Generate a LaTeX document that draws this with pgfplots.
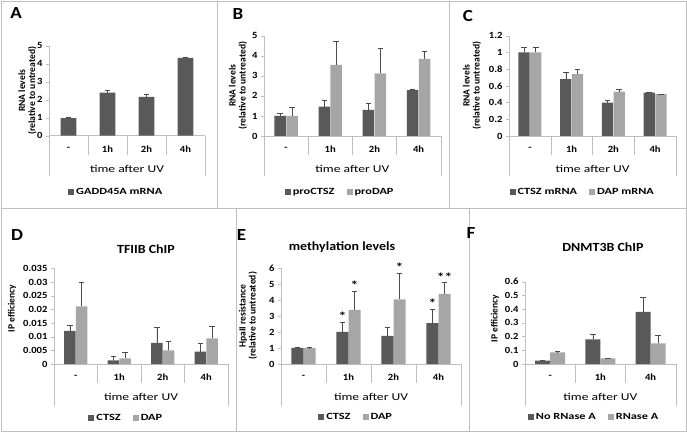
\documentclass[border=0pt]{standalone}
\usepackage{pgfplots}
\pgfplotsset{compat=1.18}
\usepackage{fontspec}
\setmainfont{Carlito}
\newfontfamily\wide{Carlito}[FakeStretch=1.3]
\newfontfamily\semiwide{Carlito}[FakeStretch=1.12]

\definecolor{darkbar}{HTML}{595959}
\definecolor{lightbar}{HTML}{A6A6A6}
\definecolor{frame}{HTML}{BFBFBF}

\newcommand{\sep}[2]{\draw[frame] (axis cs:#1,0) -- ++(0bp,-#2bp);}

\pgfplotsset{
  panel/.style={
    scale only axis, ybar, ymin=0, xmin=0, clip=false,
    scaled y ticks=false,
    axis x line*=bottom, axis y line*=left,
    axis line style={draw=frame, -},
    ytick style={draw=frame}, tick align=outside, major tick length=3bp,
    x tick style={draw=none},
    xtick={0.5,1.5,2.5,3.5},
    /pgf/number format/assume math mode=true,
    tick label style={font=\fontsize{9.5}{10}\semiwide\bfseries},
    xticklabel style={anchor=center, yshift=-10bp},
    xlabel={time after UV},
    every axis x label/.style={at={([yshift=-33bp]axis description cs:0.5,0)}, anchor=center,
      font=\fontsize{10.5}{12}\wide},
    every axis y label/.style={rotate=90, anchor=center, align=center,
      font=\fontsize{9.6}{10.2}\selectfont\bfseries},
    error bars/y dir=plus, error bars/y explicit,
    error bars/error bar style={draw=black!70, line width=0.5bp},
    error bars/error mark options={rotate=90, draw=black!70, mark size=2.8bp, line width=0.5bp},
    legend style={draw=none, fill=none, inner sep=0pt, anchor=west,
      font=\fontsize{9.5}{11}\wide\bfseries},
    legend cell align=left,
    legend columns=-1,
    legend image code/.code={\fill[##1] (0bp,-3bp) rectangle (6bp,3bp);},
    /tikz/every even column/.append style={column sep=10bp},
  },
  dk/.style={fill=darkbar, draw=none},
  lt/.style={fill=lightbar, draw=none},
}

\begin{document}
\begin{tikzpicture}
\useasboundingbox (0bp,0bp) rectangle (687bp,432bp);

% A
\begin{axis}[panel, at={(49bp,296.3bp)}, anchor=south west, width=156bp, height=90bp,
  xmax=4, ymax=5, ytick={0,1,2,3,4,5}, bar width=0.41,
  xticklabels={-,1h,2h,4h},
  ylabel={RNA levels\\(relative to untreated)},
  every axis y label/.append style={at={([xshift=-21.5bp]axis description cs:0,0.5)}},
  legend style={at={(axis description cs:0.122,-0.626)}}]
\addplot[dk] coordinates {(0.5,0.97) +- (0,0.05) (1.5,2.39) +- (0,0.15) (2.5,2.15) +- (0,0.13) (3.5,4.33) +- (0,0.02)};
\legend{GADD45A mRNA}
\sep{0}{40}\sep{1}{19}\sep{2}{19}\sep{3}{19}\sep{4}{40}
\end{axis}

% B
\begin{axis}[panel, at={(264bp,296bp)}, anchor=south west, width=176.7bp, height=100.3bp,
  xmax=4, ymax=5, ytick={0,1,2,3,4,5}, bar width=0.26,
  xticklabels={-,1h,2h,4h},
  ylabel={RNA levels\\(relative to untreated)},
  every axis y label/.append style={at={([xshift=-26bp]axis description cs:0,0.5)}},
  legend style={at={(axis description cs:0.117,-0.558)}}]
\addplot[dk, bar shift=-0.135] coordinates {(0.5,1.0) +- (0,0.13) (1.5,1.46) +- (0,0.33) (2.5,1.30) +- (0,0.34) (3.5,2.29) +- (0,0.03)};
\addplot[lt, bar shift=0.135] coordinates {(0.5,1.0) +- (0,0.45) (1.5,3.54) +- (0,1.18) (2.5,3.12) +- (0,1.23) (3.5,3.84) +- (0,0.37)};
\legend{proCTSZ,proDAP}
\sep{0}{40}\sep{1}{19}\sep{2}{19}\sep{3}{19}\sep{4}{40}
\end{axis}

% C
\begin{axis}[panel, at={(509bp,296bp)}, anchor=south west, width=167bp, height=100.3bp,
  xmax=4, ymax=1.2, ytick={0,0.2,0.4,0.6,0.8,1,1.2}, yticklabels={0,0.2,0.4,0.6,0.8,1,1.2},
  bar width=0.27, xticklabels={-,1h,2h,4h},
  ylabel={RNA levels\\(relative to untreated)},
  every axis y label/.append style={at={([xshift=-37bp]axis description cs:0,0.5)}},
  legend style={at={(axis description cs:0.002,-0.558)}}]
\addplot[dk, bar shift=-0.14] coordinates {(0.5,1.0) +- (0,0.065) (1.5,0.68) +- (0,0.085) (2.5,0.40) +- (0,0.03) (3.5,0.52) +- (0,0.005)};
\addplot[lt, bar shift=0.14] coordinates {(0.5,1.0) +- (0,0.06) (1.5,0.74) +- (0,0.06) (2.5,0.53) +- (0,0.03) (3.5,0.50) +- (0,0.003)};
\legend{CTSZ mRNA,DAP mRNA}
\sep{0}{40}\sep{1}{19}\sep{2}{19}\sep{3}{19}\sep{4}{40}
\end{axis}

% D
\begin{axis}[panel, at={(54bp,68bp)}, anchor=south west, width=174bp, height=95.7bp,
  xmax=4, ymax=0.035, ytick={0,0.005,0.01,0.015,0.02,0.025,0.03,0.035},
  yticklabels={0,0.005,0.01,0.015,0.02,0.025,0.03,0.035},
  bar width=0.265, xticklabels={-,1h,2h,4h},
  ylabel={IP efficiency},
  every axis y label/.append style={at={([xshift=-42bp]axis description cs:0,0.58)}},
  legend style={at={(axis description cs:0.197,-0.564)}}]
\addplot[dk, bar shift=-0.135] coordinates {(0.5,0.0121) +- (0,0.0022) (1.5,0.0013) +- (0,0.0017) (2.5,0.0077) +- (0,0.0058) (3.5,0.0045) +- (0,0.0031)};
\addplot[lt, bar shift=0.135] coordinates {(0.5,0.0211) +- (0,0.0089) (1.5,0.0021) +- (0,0.0022) (2.5,0.0050) +- (0,0.0032) (3.5,0.0094) +- (0,0.0045)};
\legend{CTSZ,DAP}
\sep{0}{42}\sep{1}{19}\sep{2}{19}\sep{3}{19}\sep{4}{42}
\end{axis}

% E
\begin{axis}[panel, at={(281bp,68bp)}, anchor=south west, width=180bp, height=96bp,
  xmax=4, ymax=6, ytick={0,1,2,3,4,5,6},
  bar width=0.27, xticklabels={-,1h,2h,4h},
  ylabel={HpaII resistance\\(relative to untreated)},
  every axis y label/.append style={at={([xshift=-33bp]axis description cs:0,0.5)}},
  legend style={at={(axis description cs:0.206,-0.549)}}]
\addplot[dk, bar shift=-0.135] coordinates {(0.5,1.0) +- (0,0.02) (1.5,2.0) +- (0,0.6) (2.5,1.75) +- (0,0.53) (3.5,2.56) +- (0,0.86)};
\addplot[lt, bar shift=0.135] coordinates {(0.5,1.0) +- (0,0.02) (1.5,3.38) +- (0,1.14) (2.5,4.04) +- (0,1.65) (3.5,4.38) +- (0,0.7)};
\legend{CTSZ,DAP}
\sep{0}{42}\sep{1}{19}\sep{2}{19}\sep{3}{19}\sep{4}{42}
\begin{scope}[every node/.style={anchor=south, inner sep=1.5bp, font=\fontsize{12}{12}\wide\bfseries}]
\node at (axis cs:1.365,2.6) {*};
\node at (axis cs:1.635,4.52) {*};
\node at (axis cs:2.635,5.69) {*};
\node at (axis cs:3.365,3.42) {*};
\node at (axis cs:3.635,5.08) {**};
\end{scope}
\end{axis}

% F
\begin{axis}[panel, at={(525bp,68bp)}, anchor=south west, width=150.7bp, height=82.3bp,
  xmax=3, ymax=0.6, ytick={0,0.1,0.2,0.3,0.4,0.5,0.6}, yticklabels={0,0.1,0.2,0.3,0.4,0.5,0.6},
  xtick={0.5,1.5,2.5}, bar width=0.3, xticklabels={-,1h,4h},
  ylabel={IP efficiency},
  every axis y label/.append style={at={([xshift=-30bp]axis description cs:0,0.55)}},
  legend style={at={(axis description cs:0.018,-0.648)}}]
\addplot[dk, bar shift=-0.15] coordinates {(0.5,0.024) +- (0,0.005) (1.5,0.18) +- (0,0.04) (2.5,0.38) +- (0,0.105)};
\addplot[lt, bar shift=0.15] coordinates {(0.5,0.085) +- (0,0.005) (1.5,0.041) +- (0,0.004) (2.5,0.15) +- (0,0.06)};
\legend{No RNase A,RNase A}
\sep{0}{42}\sep{1}{19}\sep{2}{19}\sep{3}{42}
\end{axis}

% panel frames
\draw[frame] (1bp,1bp) rectangle (686bp,431bp);
\draw[frame] (1bp,224bp) -- (686bp,224bp);
\draw[frame] (217bp,431bp) -- (217bp,224bp);
\draw[frame] (449bp,431bp) -- (449bp,224bp);
\draw[frame] (236bp,224bp) -- (236bp,1bp);
\draw[frame] (469bp,224bp) -- (469bp,1bp);

% titles and panel letters
\begin{scope}[every node/.style={font=\fontsize{12.5}{14}\semiwide\bfseries}]
\node at (146bp,183bp) {TFIIB ChIP};
\node at (342bp,185bp) {methylation levels};
\node at (603bp,185bp) {DNMT3B ChIP};
\end{scope}
\begin{scope}[every node/.style={font=\fontsize{17}{18}\semiwide\bfseries}]
\node at (16bp,418.5bp) {A};
\node at (238bp,418bp) {B};
\node at (468bp,416bp) {C};
\node at (17bp,197bp) {D};
\node at (241.5bp,197bp) {E};
\node at (471bp,199bp) {F};
\end{scope}
\end{tikzpicture}
\end{document}
